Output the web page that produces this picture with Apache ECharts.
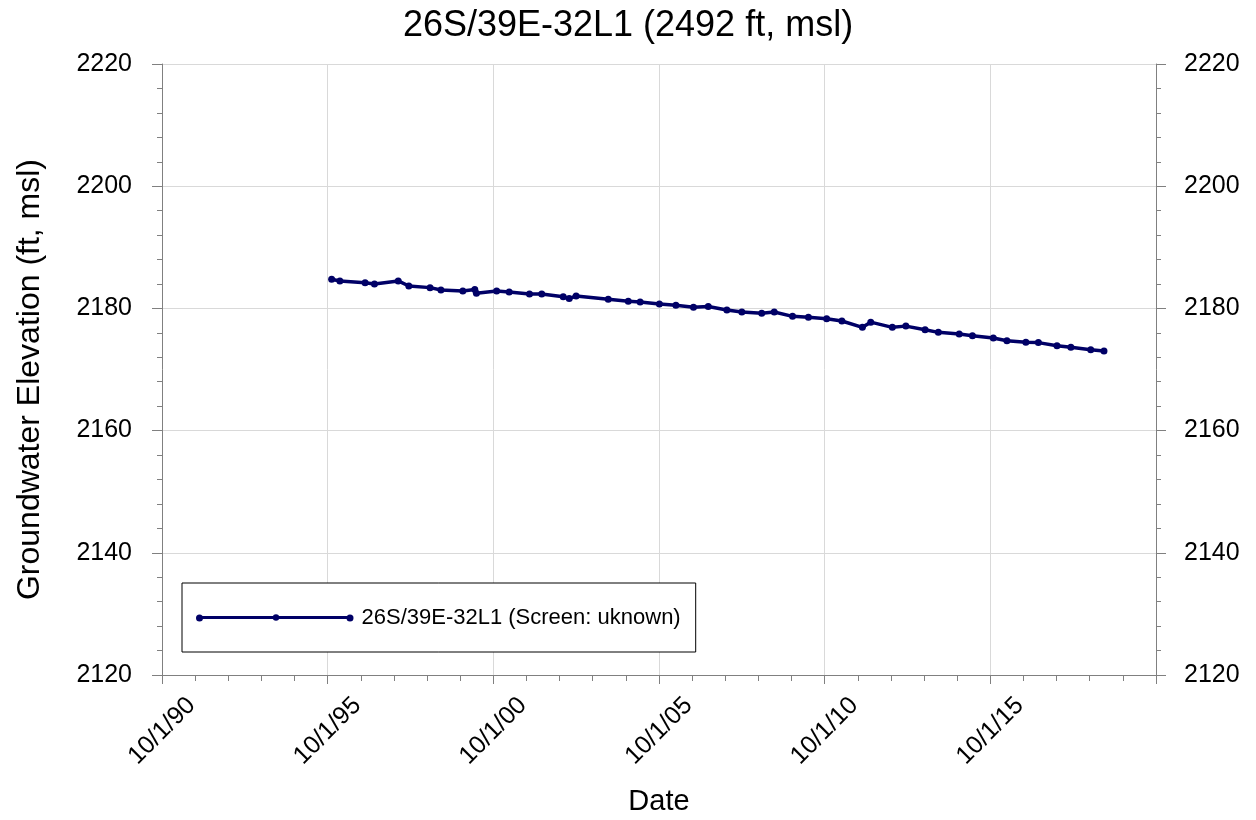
<!DOCTYPE html>
<html>
<head>
<meta charset="utf-8">
<script src="https://cdn.jsdelivr.net/npm/echarts@6/dist/echarts.min.js"></script>
<style>html,body{margin:0;padding:0;background:#fff;}#chart{width:1256px;height:820px;}</style>
</head>
<body>
<div id="chart"></div>
<script>
var titleText = '26S/39E-32L1 (2492 ft, msl)';
var seriesName = '26S/39E-32L1 (Screen: uknown)';
var yAxisName = 'Groundwater Elevation (ft, msl)';
var xAxisName = 'Date';
var xTickYears = [1990, 1995, 2000, 2005, 2010, 2015];
var yTicks = [2120, 2140, 2160, 2180, 2200, 2220];

var dates = [
  '1995-11-14','1996-02-13','1996-11-17','1997-02-28','1997-11-17','1998-03-14','1998-11-03','1999-03-03','1999-10-30',
  '2000-03-10','2000-03-28','2000-11-06','2001-03-24','2001-11-03','2002-03-18','2002-11-10','2003-01-15','2003-04-01',
  '2004-03-20','2004-10-27','2005-03-07','2005-10-05','2006-04-05','2006-10-16','2007-03-28','2007-10-19',
  '2008-04-01','2008-11-06','2009-03-24','2009-10-12','2010-04-05','2010-10-23','2011-04-09','2011-11-21',
  '2012-02-21','2012-10-16','2013-03-14','2013-10-12','2014-03-07','2014-10-23','2015-03-18','2015-11-03',
  '2016-04-01','2016-10-27','2017-03-14','2017-10-05','2018-03-07','2018-10-12','2019-03-07'
];
var elevations = [
  2184.76,2184.48,2184.2,2184.0,2184.5,2183.66,2183.4,2183.0,2182.85,
  2183.1,2182.47,2182.85,2182.7,2182.35,2182.35,2181.9,2181.6,2182.03,
  2181.5,2181.16,2181.05,2180.72,2180.5,2180.17,2180.3,2179.74,
  2179.4,2179.2,2179.4,2178.7,2178.54,2178.3,2177.94,2176.9,
  2177.75,2176.9,2177.1,2176.5,2176.08,2175.8,2175.53,2175.16,
  2174.7,2174.45,2174.4,2173.9,2173.63,2173.24,2173.03
];

// x axis: years elapsed since 10/1/1990
var origin = Date.UTC(1990, 9, 1);
var YEAR_MS = 365.25 * 86400000;
function toOffset(d) { return (Date.parse(d + 'T00:00:00Z') - origin) / YEAR_MS; }
var seriesData = dates.map(function (d, i) { return [toOffset(d), elevations[i]]; });

var FONT = "'Liberation Sans', Arial, sans-serif";
var AX = '#808080';
var GRID = '#d9d9d9';
var LINE = '#000066';

function yAxisCfg(pos, margin, split) {
  return {
    type: 'value', position: pos,
    min: yTicks[0], max: yTicks[yTicks.length - 1], interval: 20,
    axisLine: { show: true, lineStyle: { color: AX, width: 1 } },
    axisTick: { show: true, inside: false, length: 10, lineStyle: { color: AX } },
    minorTick: { show: true, splitNumber: 5, length: 5, lineStyle: { color: AX } },
    splitLine: { show: split, lineStyle: { color: GRID, width: 1 } },
    axisLabel: { fontFamily: FONT, fontSize: 25, color: '#000', margin: margin,
      formatter: function (v) { return String(v); } }
  };
}

var chart = echarts.init(document.getElementById('chart'), null, { renderer: 'canvas' });
var leftY = yAxisCfg('left', 30, true);
leftY.name = yAxisName;
leftY.nameLocation = 'middle';
leftY.nameGap = 116;
leftY.nameTextStyle = { fontFamily: FONT, fontSize: 32, color: '#000', padding: [0, 20, 0, 0] };
var rightY = yAxisCfg('right', 28, false);

chart.setOption({
  animation: false,
  backgroundColor: '#fff',
  title: {
    text: titleText, left: 'center', top: 3,
    textStyle: { fontFamily: FONT, fontSize: 36, fontWeight: 'normal', color: '#000' }
  },
  grid: { left: 162, right: 100, top: 64, bottom: 145, containLabel: false, outerBoundsMode: 'none' },
  xAxis: {
    type: 'value', min: 0, max: 30, interval: 5,
    name: xAxisName, nameLocation: 'middle', nameGap: 112,
    nameTextStyle: { fontFamily: FONT, fontSize: 29, color: '#000' },
    axisLine: { show: true, onZero: false, lineStyle: { color: AX, width: 1 } },
    axisTick: { show: true, inside: false, length: 9, lineStyle: { color: AX } },
    minorTick: { show: true, splitNumber: 5, length: 6, lineStyle: { color: AX } },
    splitLine: { show: true, lineStyle: { color: GRID, width: 1 } },
    axisLabel: {
      fontFamily: FONT, fontSize: 25, color: '#000',
      rotate: 45, align: 'center', verticalAlign: 'middle', margin: 56,
      showMaxLabel: false,
      formatter: function (v) {
        var y = 1990 + Math.round(v);
        if (xTickYears.indexOf(y) < 0) return '';
        var yy = y % 100;
        return '10/1/' + (yy < 10 ? '0' + yy : '' + yy);
      }
    }
  },
  yAxis: [leftY, rightY],
  legend: {
    left: 182, top: 583,
    padding: [22, 15, 22, 17],
    backgroundColor: '#fff', borderColor: '#000', borderWidth: 1,
    itemWidth: 151, itemHeight: 8,
    lineStyle: { width: 3, color: LINE },
    textStyle: { fontFamily: FONT, fontSize: 22, lineHeight: 25, color: '#000', padding: [0, 0, 0, 5] },
    data: [seriesName]
  },
  graphic: [
    { type: 'circle', shape: { cx: 199.5, cy: 618, r: 3.5 }, style: { fill: LINE }, z: 100 },
    { type: 'circle', shape: { cx: 350, cy: 618, r: 3.5 }, style: { fill: LINE }, z: 100 }
  ],
  series: [{
    name: seriesName, type: 'line', data: seriesData,
    symbol: 'circle', symbolSize: 7, showSymbol: true,
    lineStyle: { color: LINE, width: 3.5 },
    itemStyle: { color: LINE }
  }]
});
</script>
</body>
</html>
